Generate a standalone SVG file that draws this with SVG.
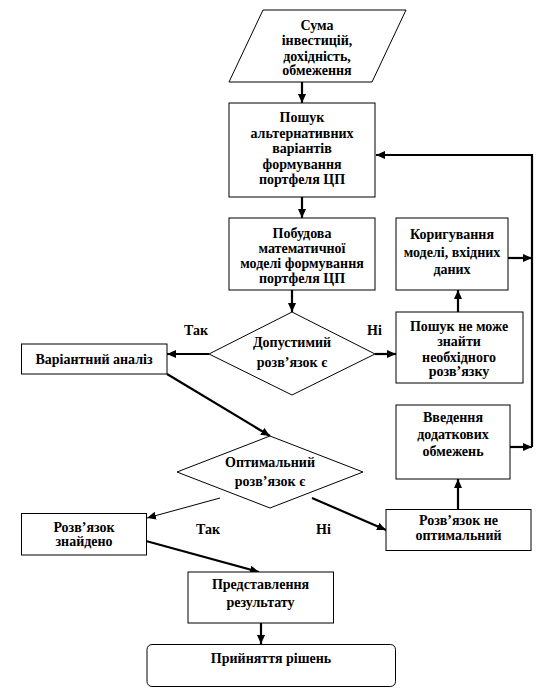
<svg xmlns="http://www.w3.org/2000/svg" width="542" height="690" viewBox="0 0 542 690">
<style>
.s{fill:#fff;stroke:#000;stroke-width:1}
.t{font-family:"Liberation Serif","Times New Roman",serif;font-size:14px;font-weight:bold;fill:#000;text-anchor:middle}
.l{font-family:"Liberation Serif","Times New Roman",serif;font-size:14px;font-weight:bold;fill:#000}
.c{fill:none;stroke:#000;stroke-width:2.2}
.thin{fill:none;stroke:#000;stroke-width:1}
</style>
<defs>
<marker id="ah" markerUnits="userSpaceOnUse" markerWidth="9" markerHeight="8" refX="9" refY="4" orient="auto">
<path d="M0,0 L9,4 L0,8 z" fill="#000"/>
</marker>
</defs>
<rect width="542" height="690" fill="#fff"/>
<g id="connectors">
<line class="c" x1="302" y1="82" x2="302" y2="103" marker-end="url(#ah)"/>
<line class="c" x1="302" y1="197" x2="302" y2="218" marker-end="url(#ah)"/>
<line class="c" x1="292" y1="290" x2="292" y2="312" marker-end="url(#ah)"/>
<line class="c" x1="209" y1="354" x2="167" y2="354" marker-end="url(#ah)"/>
<line class="c" x1="375" y1="354" x2="396" y2="354" marker-end="url(#ah)"/>
<line class="c" x1="458" y1="312" x2="458" y2="290" marker-end="url(#ah)"/>
<line class="c" x1="508" y1="258" x2="532" y2="258" marker-end="url(#ah)"/>
<line class="c" x1="510" y1="447" x2="532" y2="447" marker-end="url(#ah)"/>
<polyline class="c" stroke-width="3" points="532,447 532,155 376,155" marker-end="url(#ah)"/>
<line class="c" stroke-width="2.5" x1="167" y1="374" x2="270" y2="436" marker-end="url(#ah)"/>
<line class="thin" x1="220" y1="498" x2="147" y2="518" marker-end="url(#ah)"/>
<line class="c" x1="312" y1="498" x2="386" y2="530" marker-end="url(#ah)"/>
<line class="c" x1="458" y1="509" x2="458" y2="479" marker-end="url(#ah)"/>
<line class="c" x1="146" y1="541" x2="259" y2="572" marker-end="url(#ah)"/>
<line class="c" x1="261" y1="623" x2="261" y2="644" marker-end="url(#ah)"/>
</g>
<g id="input">
<polygon class="s" points="263,10 406,10 372,82 229,82"/>
<text class="t" x="317" y="29.5">Сума</text>
<text class="t" x="317" y="45">інвестицій,</text>
<text class="t" x="317" y="60.5">дохідність,</text>
<text class="t" x="317" y="75">обмеження</text>
</g>
<g id="search">
<rect class="s" x="229" y="103" width="146" height="94"/>
<text class="t" x="302" y="122">Пошук</text>
<text class="t" x="302" y="137.5">альтернативних</text>
<text class="t" x="302" y="153">варіантів</text>
<text class="t" x="302" y="168.5">формування</text>
<text class="t" x="302" y="184">портфеля ЦП</text>
</g>
<g id="model">
<rect class="s" x="229" y="218" width="146" height="72"/>
<text class="t" x="302" y="238">Побудова</text>
<text class="t" x="302" y="253">математичної</text>
<text class="t" x="302" y="268">моделі формування</text>
<text class="t" x="302" y="283">портфеля ЦП</text>
</g>
<g id="correct">
<rect class="s" x="396" y="218" width="112" height="72"/>
<text class="t" x="452" y="239">Коригування</text>
<text class="t" x="452" y="256.5">моделі, вхідних</text>
<text class="t" x="452" y="274">даних</text>
</g>
<g id="feasible">
<polygon class="s" points="292,312 375,354 292,395 209,354"/>
<text class="t" x="292" y="346.5">Допустимий</text>
<text class="t" x="292" y="366.5">розв’язок є</text>
</g>
<text class="l" x="208" y="335" text-anchor="end">Так</text>
<text class="l" x="367" y="335">Ні</text>
<g id="variant">
<rect class="s" x="21.5" y="344" width="145.5" height="30"/>
<text class="t" x="94" y="364">Варіантний аналіз</text>
</g>
<g id="notfound">
<rect class="s" x="396" y="312" width="127" height="71"/>
<text class="t" x="459" y="331">Пошук не може</text>
<text class="t" x="459" y="346">знайти</text>
<text class="t" x="459" y="361.5">необхідного</text>
<text class="t" x="459" y="376">розв’язку</text>
</g>
<g id="constraints">
<rect class="s" x="396" y="405" width="114" height="74"/>
<text class="t" x="453" y="422">Введення</text>
<text class="t" x="453" y="438.5">додаткових</text>
<text class="t" x="453" y="455.5">обмежень</text>
</g>
<g id="optimal">
<polygon class="s" points="270,436 363,472 270,508 177,472"/>
<text class="t" x="270" y="466.5">Оптимальний</text>
<text class="t" x="270" y="486">розв’язок є</text>
</g>
<text class="l" x="196" y="534">Так</text>
<text class="l" x="316" y="534">Ні</text>
<g id="found">
<rect class="s" x="21.5" y="513.5" width="125" height="41.5"/>
<text class="t" x="84" y="531.5">Розв’язок</text>
<text class="t" x="84" y="546">знайдено</text>
</g>
<g id="notoptimal">
<rect class="s" x="386" y="509.5" width="145" height="41"/>
<text class="t" x="458.5" y="525">Розв’язок не</text>
<text class="t" x="458.5" y="540">оптимальний</text>
</g>
<g id="result">
<rect class="s" x="188" y="572" width="145.5" height="51"/>
<text class="t" x="260.5" y="589">Представлення</text>
<text class="t" x="260.5" y="606.5">результату</text>
</g>
<g id="decision">
<rect class="s" x="147" y="644.5" width="248.5" height="42" rx="5" ry="5"/>
<text class="t" x="271" y="663">Прийняття рішень</text>
</g>
</svg>
